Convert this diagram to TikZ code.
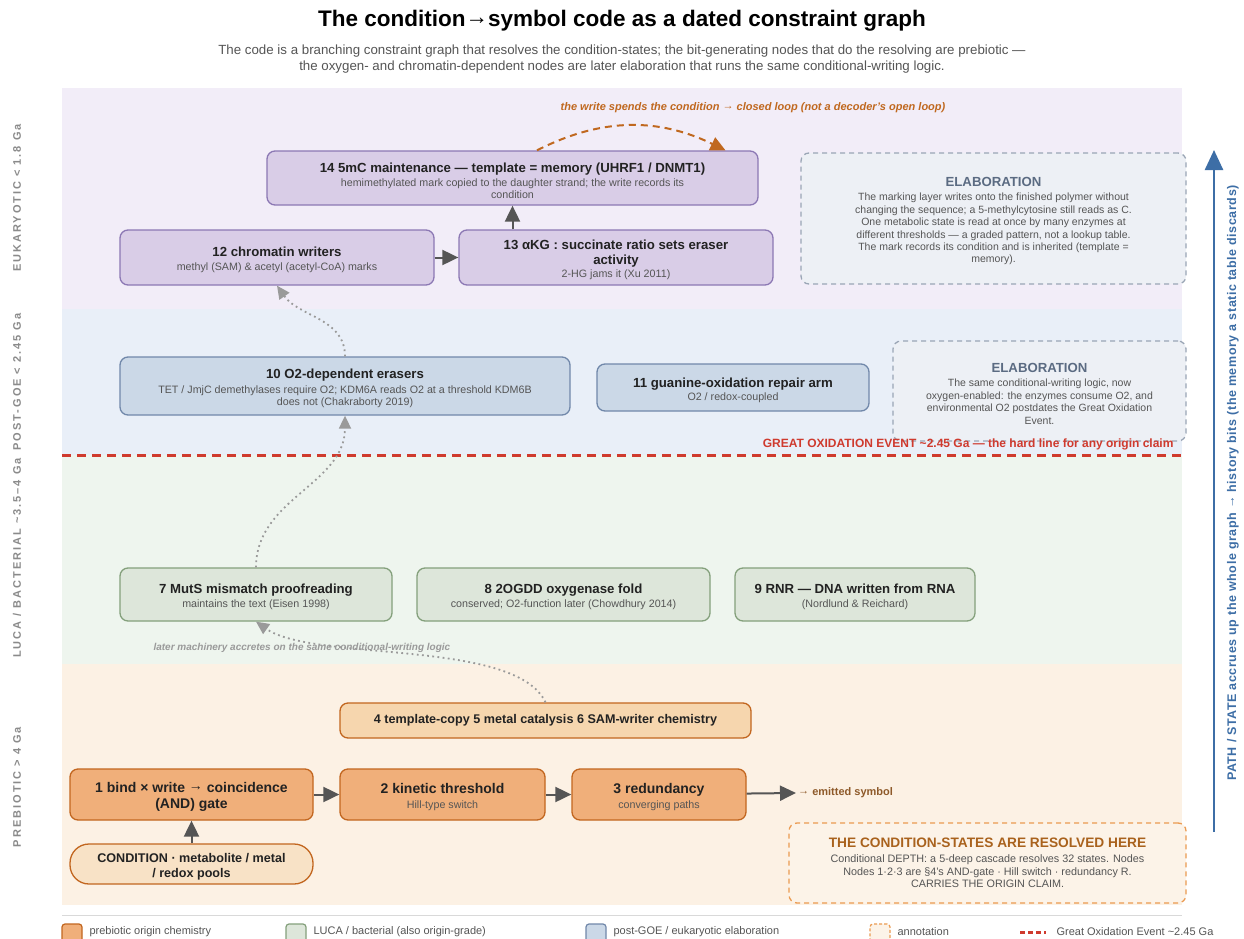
\documentclass[tikz,border=0pt]{standalone}
\usepackage{fontspec}
\setmainfont{Liberation Sans}
\usetikzlibrary{arrows.meta}

\definecolor{ink}{HTML}{222222}
\definecolor{subink}{HTML}{555555}
\definecolor{eukband}{HTML}{F2EDF8}
\definecolor{goeband}{HTML}{E9EFF8}
\definecolor{lucaband}{HTML}{EEF5EE}
\definecolor{prebband}{HTML}{FCF1E4}
\definecolor{eukfill}{HTML}{D9CDE7}
\definecolor{eukline}{HTML}{8C78B4}
\definecolor{goefill}{HTML}{CBD8E7}
\definecolor{goeline}{HTML}{7188AA}
\definecolor{lucafill}{HTML}{DDE6DA}
\definecolor{lucaline}{HTML}{84A07C}
\definecolor{prebfill}{HTML}{F0AF7A}
\definecolor{prebline}{HTML}{C2661F}
\definecolor{prebpale}{HTML}{F6D6AE}
\definecolor{condfill}{HTML}{F8E2C6}
\definecolor{elabfill}{HTML}{EDF0F5}
\definecolor{elabline}{HTML}{9AA5B5}
\definecolor{elabhead}{HTML}{5B6B82}
\definecolor{annfill}{HTML}{FCF3E8}
\definecolor{annline}{HTML}{EB9A50}
\definecolor{annhead}{HTML}{A9621D}
\definecolor{goered}{HTML}{CF3A2E}
\definecolor{loopor}{HTML}{C0681F}
\definecolor{emitbrown}{HTML}{8E5A2A}
\definecolor{pathblue}{HTML}{3D6EA6}
\definecolor{arrowgray}{HTML}{555555}
\definecolor{dotgray}{HTML}{9A9A9A}
\definecolor{eragray}{HTML}{8A8A8A}

\newcommand{\nodehead}[1]{{\fontsize{13.2}{15}\selectfont\bfseries\color{ink}#1}}
\newcommand{\bighead}[1]{{\fontsize{14}{16}\selectfont\bfseries\color{ink}#1}}
\newcommand{\smallhead}[1]{{\fontsize{12.6}{15}\selectfont\bfseries\color{ink}#1}}
\newcommand{\nodesub}[1]{{\color{subink}#1}}
\newcommand{\elabtitle}[1]{{\fontsize{13.2}{15}\selectfont\bfseries\color{elabhead}#1}}
\newcommand{\topgap}{\rule{0pt}{15pt}}
\newcommand{\ra}{\raisebox{0.12em}{→}}

\tikzset{
  box/.style={rounded corners=8pt, line width=1.3pt, align=center, inner sep=3pt,
    font=\fontsize{10.7}{12.4}\selectfont},
  eukbox/.style={box, fill=eukfill, draw=eukline},
  goebox/.style={box, fill=goefill, draw=goeline},
  lucabox/.style={box, fill=lucafill, draw=lucaline},
  prebbox/.style={box, fill=prebfill, draw=prebline},
  palebox/.style={box, fill=prebpale, draw=prebline},
  condbox/.style={box, rounded corners=19pt, fill=condfill, draw=prebline},
  elabbox/.style={rounded corners=8pt, line width=1.3pt, dash pattern=on 5pt off 4pt,
    draw=elabline, fill=elabfill, align=center, text=subink,
    font=\fontsize{10.5}{12.4}\selectfont},
  annbox/.style={elabbox, draw=annline, fill=annfill, font=\fontsize{10.8}{12.5}\selectfont},
  flow/.style={draw=arrowgray, line width=2pt, -{Triangle[length=16pt,width=15pt]}},
  later/.style={draw=dotgray, line width=1.8pt, dash pattern=on 1.8pt off 3.4pt,
    -{Triangle[length=13pt,width=12pt]}},
  eralabel/.style={rotate=90, text=eragray,
    font=\fontsize{11}{13}\selectfont\bfseries\addfontfeature{LetterSpace=18}},
  legendtext/.style={anchor=west, text=subink, font=\fontsize{11}{13}\selectfont},
}

\begin{document}
\begin{tikzpicture}[x=1pt, y=1pt]

\useasboundingbox (0,0) rectangle (1244,-939);
\fill[white] (0,0) rectangle (1244,-939);

% title
\node (title) at (622,-21) {\fontsize{22.5}{26}\selectfont\bfseries The condition\ra symbol code as a dated constraint graph};
\node[align=center, text=subink, font=\fontsize{13.3}{16}\selectfont] (subtitle) at (622,-59)
  {The code is a branching constraint graph that resolves the condition-states; the bit-generating nodes that do the resolving are prebiotic —\\
   the oxygen- and chromatin-dependent nodes are later elaboration that runs the same conditional-writing logic.};

% era bands
\fill[eukband] (62,-88) rectangle (1182,-309);
\fill[goeband] (62,-309) rectangle (1182,-455);
\fill[lucaband] (62,-455) rectangle (1182,-664);
\fill[prebband] (62,-664) rectangle (1182,-905);

\node[eralabel] (lblEuk) at (17,-198) {EUKARYOTIC < 1.8 Ga};
\node[eralabel] (lblGoe) at (17,-382) {POST-GOE < 2.45 Ga};
\node[eralabel] (lblLuca) at (17,-558) {LUCA / BACTERIAL \textasciitilde3.5–4 Ga};
\node[eralabel] (lblPreb) at (17,-787) {PREBIOTIC > 4 Ga};

% eukaryotic
\node[eukbox, minimum width=491, minimum height=54] (n14) at (512.5,-178)
  {\topgap\nodehead{14 5mC maintenance — template = memory (UHRF1 / DNMT1)}\\[2pt]
   \nodesub{hemimethylated mark copied to the daughter strand; the write records its}\\
   \nodesub{condition}};
\node[eukbox, minimum width=314, minimum height=55] (n12) at (277,-257.5)
  {\topgap\nodehead{12 chromatin writers}\\[1.5pt] \nodesub{methyl (SAM) \& acetyl (acetyl-CoA) marks}};
\node[eukbox, minimum width=314, minimum height=55] (n13) at (616,-257.5)
  {\topgap\nodehead{13 αKG : succinate ratio sets eraser}\\[2.6pt] \nodehead{activity}\\[0.5pt] \nodesub{2-HG jams it (Xu 2011)}};
\node[elabbox, minimum width=385, minimum height=131] (elabEuk) at (993.5,-218.5)
  {\topgap\elabtitle{ELABORATION}\\[1.5pt]
   The marking layer writes onto the finished polymer without\\
   changing the sequence; a 5-methylcytosine still reads as C.\\
   One metabolic state is read at once by many enzymes at\\
   different thresholds — a graded pattern, not a lookup table.\\
   The mark records its condition and is inherited (template =\\
   memory).};

\draw[flow] (n12) -- (n13);
\draw[flow] (n14.south |- n13.north) -- (n14.south);
\draw[loopor, line width=2pt, dash pattern=on 7pt off 5pt, -{Triangle[length=15pt,width=14pt]}]
  ([xshift=24.5pt]n14.north) to[out=27, in=154] ([xshift=213pt]n14.north);
\node[text=loopor, font=\fontsize{11}{13}\selectfont\bfseries\itshape] (loopLabel) at (753,-108)
  {the write spends the condition \ra{} closed loop (not a decoder's open loop)};

% post-GOE
\node[goebox, minimum width=450, minimum height=58] (n10) at (345,-386)
  {\topgap\nodehead{10 O2-dependent erasers}\\[2pt]
   \nodesub{TET / JmjC demethylases require O2; KDM6A reads O2 at a threshold KDM6B}\\
   \nodesub{does not (Chakraborty 2019)}};
\node[goebox, minimum width=272, minimum height=47] (n11) at (733,-387.5)
  {\topgap\nodehead{11 guanine-oxidation repair arm}\\[1pt] \nodesub{O2 / redox-coupled}};
\node[elabbox, minimum width=293, minimum height=100] (elabGoe) at (1039.5,-391)
  {\topgap\elabtitle{ELABORATION}\\[1.5pt]
   The same conditional-writing logic, now\\
   oxygen-enabled: the enzymes consume O2, and\\
   environmental O2 postdates the Great Oxidation\\
   Event.};

\draw[later] (n10.north) to[out=90, in=-55] (n12.south);

% great oxidation event
\draw[goered, line width=3pt, dash pattern=on 9pt off 6pt] (62,-455) -- (1182,-455);
\node[anchor=east, text=goered, font=\fontsize{12}{14}\selectfont\bfseries] (goeLabel) at (1177,-444)
  {GREAT OXIDATION EVENT \textasciitilde2.45 Ga — the hard line for any origin claim};

% LUCA
\node[lucabox, minimum width=272, minimum height=53] (n7) at (256,-594.5)
  {\topgap\nodehead{7 MutS mismatch proofreading}\\[1.5pt] \nodesub{maintains the text (Eisen 1998)}};
\node[lucabox, minimum width=293, minimum height=53] (n8) at (563.5,-594.5)
  {\topgap\nodehead{8 2OGDD oxygenase fold}\\[1.5pt] \nodesub{conserved; O2-function later (Chowdhury 2014)}};
\node[lucabox, minimum width=240, minimum height=53] (n9) at (855,-594.5)
  {\topgap\nodehead{9 RNR — DNA written from RNA}\\[1.5pt] \nodesub{(Nordlund \& Reichard)}};

\draw[later] (n7.north) to[out=90, in=-90] (n10.south);

\node[anchor=west, text=dotgray, font=\fontsize{10}{12}\selectfont\bfseries\itshape] (laterLabel) at (150,-648)
  {later machinery accretes on the same conditional-writing logic};

% prebiotic
\node[palebox, minimum width=411, minimum height=35] (n456) at (545.5,-720.5)
  {\smallhead{4 template-copy 5 metal catalysis 6 SAM-writer chemistry}};
\node[prebbox, minimum width=243, minimum height=51] (n1) at (191.5,-794.5)
  {\topgap\bighead{1 bind × write \ra{} coincidence}\\[3.6pt] \bighead{(AND) gate}};
\node[prebbox, minimum width=205, minimum height=51] (n2) at (442.5,-794.5)
  {\topgap\bighead{2 kinetic threshold}\\[2pt] \nodesub{Hill-type switch}};
\node[prebbox, minimum width=174, minimum height=51] (n3) at (659,-794.5)
  {\topgap\bighead{3 redundancy}\\[2pt] \nodesub{converging paths}};
\node[anchor=west, text=emitbrown, font=\fontsize{11}{13}\selectfont\bfseries, inner sep=2pt] (emit) at (796,-793)
  {\ra{} emitted symbol};
\node[condbox, minimum width=243, minimum height=40] (cond) at (191.5,-864)
  {\topgap\smallhead{CONDITION · metabolite / metal}\\[2.6pt] \smallhead{/ redox pools}};
\node[annbox, minimum width=397, minimum height=80] (annot) at (987.5,-863)
  {{\fontsize{13.7}{15}\selectfont\bfseries\color{annhead}THE CONDITION-STATES ARE RESOLVED HERE}\\[2.5pt]
   Conditional DEPTH: a 5-deep cascade resolves 32 states. Nodes\\
   Nodes 1·2·3 are §4's AND-gate · Hill switch · redundancy R.\\
   CARRIES THE ORIGIN CLAIM.};

\draw[later] (n456.north) to[out=115, in=-35, looseness=0.6] (n7.south);
\draw[flow] (cond) -- (n1);
\draw[flow] (n1) -- (n2);
\draw[flow] (n2) -- (n3);
\draw[flow] (n3) -- (emit.west);

% path / state axis
\coordinate (pathBase) at (1214,-832);
\coordinate (pathTop) at (1214,-150);
\draw[pathblue, line width=2.5pt, -{Triangle[length=20pt,width=18pt]}, draw=pathblue] (pathBase) -- (pathTop);
\node[rotate=90, text=pathblue, font=\fontsize{12.5}{14}\selectfont\bfseries\addfontfeature{LetterSpace=4.5}] (pathLabel) at (1233,-483)
  {PATH / STATE accrues up the whole graph \ra{} history bits (the memory a static table discards)};

% legend
\draw[black!15, line width=1pt] (62,-915) -- (1182,-915);
\node[draw=prebline, fill=prebfill, line width=1.2pt, rounded corners=3pt, minimum width=20, minimum height=18, inner sep=0pt] (keyPreb) at (72,-933) {};
\node[legendtext] at (86,-932) {prebiotic origin chemistry};
\node[draw=lucaline, fill=lucafill, line width=1.2pt, rounded corners=3pt, minimum width=20, minimum height=18, inner sep=0pt] (keyLuca) at (296,-933) {};
\node[legendtext] at (310,-932) {LUCA / bacterial (also origin-grade)};
\node[draw=goeline, fill=goefill, line width=1.2pt, rounded corners=3pt, minimum width=20, minimum height=18, inner sep=0pt] (keyGoe) at (596,-933) {};
\node[legendtext] at (610,-932) {post-GOE / eukaryotic elaboration};
\node[draw=annline, fill=annfill, line width=1.2pt, dash pattern=on 3pt off 2pt, rounded corners=3pt, minimum width=20, minimum height=18, inner sep=0pt] (keyAnn) at (880,-933) {};
\node[legendtext] at (894,-932) {annotation};
\draw[goered, line width=3pt, dash pattern=on 5pt off 3pt] (1020,-932) -- (1046,-932);
\node[legendtext] at (1053,-932) {Great Oxidation Event \textasciitilde2.45 Ga};

\end{tikzpicture}
\end{document}
